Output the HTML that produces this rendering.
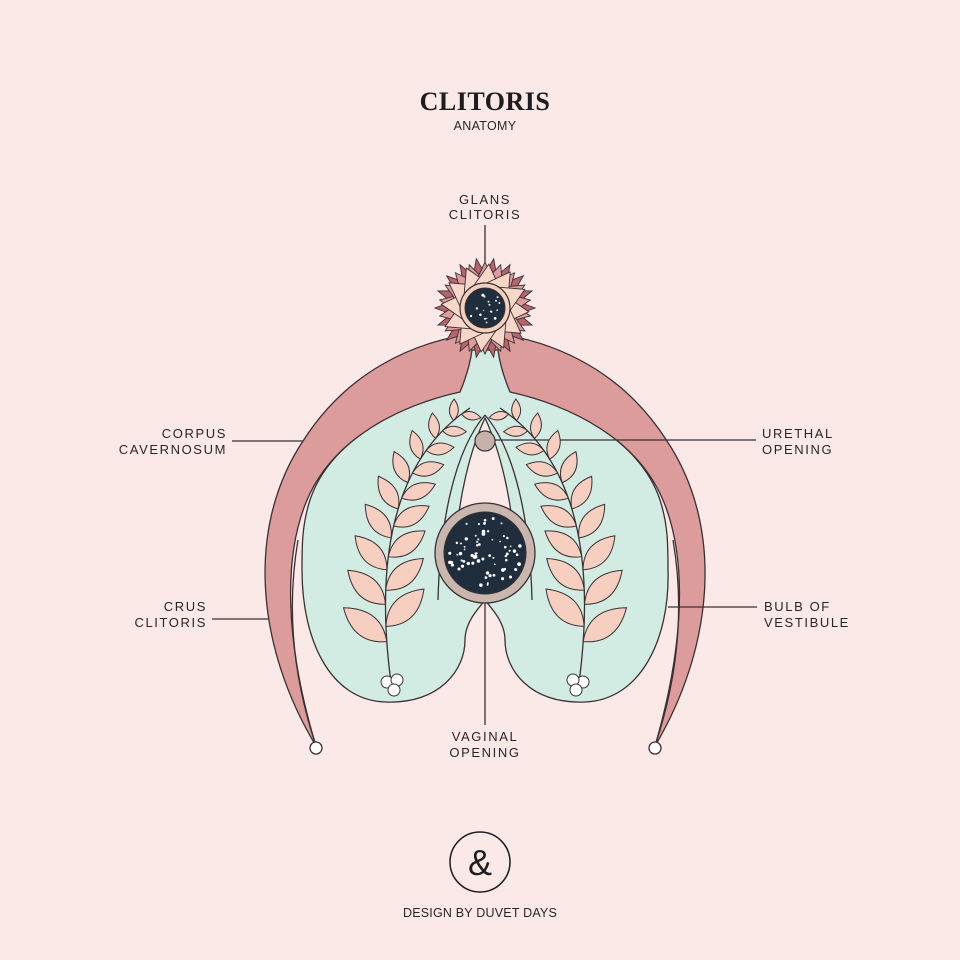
<!DOCTYPE html>
<html><head><meta charset="utf-8">
<style>
html,body{margin:0;padding:0;background:#fbe9e7;}
svg{display:block}
text{font-family:"Liberation Sans",sans-serif;fill:#2a2628;}
</style></head>
<body>
<svg id="s" width="960" height="960" viewBox="0 0 960 960" xmlns="http://www.w3.org/2000/svg">
<rect width="960" height="960" fill="#fbe9e7"/>
<text x="485" y="110" text-anchor="middle" style="font-family:'Liberation Serif',serif;font-weight:bold;font-size:26px;fill:#1e1c1e" letter-spacing="0.5">CLITORIS</text>
<text x="485" y="130" text-anchor="middle" font-size="12.5" letter-spacing="0.3">ANATOMY</text>

<g stroke="#3a3034" stroke-width="1.3" fill="none">
<line x1="485" y1="225" x2="485" y2="262"/>
<line x1="232" y1="441" x2="306" y2="441"/>
<line x1="212" y1="619" x2="290" y2="619"/>
</g>

<g font-size="13" letter-spacing="1.6">
<text x="485" y="204" text-anchor="middle">GLANS</text>
<text x="485" y="219" text-anchor="middle">CLITORIS</text>
<text x="227" y="438" text-anchor="end">CORPUS</text>
<text x="227" y="454" text-anchor="end">CAVERNOSUM</text>
<text x="762" y="438">URETHAL</text>
<text x="762" y="454">OPENING</text>
<text x="207" y="611" text-anchor="end">CRUS</text>
<text x="207" y="627" text-anchor="end">CLITORIS</text>
<text x="764" y="611">BULB OF</text>
<text x="764" y="627">VESTIBULE</text>
<text x="485" y="741" text-anchor="middle">VAGINAL</text>
<text x="485" y="757" text-anchor="middle">OPENING</text>
</g>

<!-- crescent -->
<g stroke="#3a3034" stroke-width="1.3">
<path d="M316,746 C258,650 244,530 303,441 C345,375 410,340 485,332 C560,340 625,375 667,441 C726,530 712,650 655,746 C680,660 690,570 665,505 C640,440 570,398 485,398 C400,398 330,440 305,505 C280,570 290,660 316,746 Z" fill="#dd9c9c"/>
<path d="M316,746 C294,680 286,610 298,540" fill="none"/>
<path d="M655,746 C677,680 685,610 673,540" fill="none"/>
</g>
<circle cx="316" cy="748" r="6" fill="#fff" stroke="#3a3034" stroke-width="1.3"/>
<circle cx="655" cy="748" r="6" fill="#fff" stroke="#3a3034" stroke-width="1.3"/>

<!-- bulb -->
<path d="M472,350 L498,350 C500,365 505,380 510,392 C570,405 640,440 660,500 C668,525 668,545 668,570 C670,640 640,700 585,702 C530,704 505,670 505,640 C505,620 488,605 485,600 C482,605 465,620 465,640 C465,670 440,704 385,702 C330,700 302,640 302,570 C302,545 302,525 310,500 C330,440 400,405 460,392 C465,380 470,365 472,350 Z" fill="#d3ece3" stroke="#3a3034" stroke-width="1.3"/>
<path d="M485,415 C455,450 440,520 438,600 M485,415 C515,450 530,520 532,600" fill="none" stroke="#3a3034" stroke-width="1.3"/>
<path d="M485,418 C470,450 458,500 456,545 L514,545 C512,500 500,450 485,418 Z" fill="#fbe9e7" stroke="#3a3034" stroke-width="1.3"/>
<g stroke="#3a3034" stroke-width="1.3" fill="none">
<line x1="495" y1="440" x2="756" y2="440"/>
<line x1="668" y1="607" x2="757" y2="607"/>
<line x1="485" y1="600" x2="485" y2="725"/>
</g>
<circle cx="485" cy="441" r="10" fill="#c6b2ab" stroke="#3a3034" stroke-width="1.2"/>
<circle cx="485" cy="553" r="50" fill="#c9b6af" stroke="#3a3034" stroke-width="1.3"/>
<circle cx="485" cy="553" r="41" fill="#1f2d3c" stroke="#3a3034" stroke-width="1"/>
<g id="leaves"></g>
<g id="flower"></g>
<g id="stars" fill="#fff"></g>

<circle cx="480" cy="862" r="30" fill="none" stroke="#1e1c1e" stroke-width="1.5"/>
<text x="480" y="875" text-anchor="middle" font-size="36" style="fill:#1e1c1e">&amp;</text>
<text x="480" y="917" text-anchor="middle" font-size="12.5" letter-spacing="0.2">DESIGN BY DUVET DAYS</text>
</svg>
<script>
const NS="http://www.w3.org/2000/svg";
function el(p,tag,a){const e=document.createElementNS(NS,tag);for(const k in a)e.setAttribute(k,a[k]);p.appendChild(e);return e;}
const L=document.getElementById('leaves');
function branch(m){
 const X=x=>m?970-x:x;
 const B=[392,690],C=[362,480],T=[470,408];
 el(L,'path',{d:`M${X(B[0])},${B[1]} Q${X(C[0])},${C[1]} ${X(T[0])},${T[1]}`,fill:'none',stroke:'#3a3034','stroke-width':1.3});
 const n=9;
 for(let i=0;i<n;i++){
  for(let side=-1;side<=1;side+=2){
   const t=0.12+i*0.1+(side>0?0.04:0);
   if(t>1.0)continue;
   const u=1-t;
   const x=u*u*B[0]+2*u*t*C[0]+t*t*T[0], y=u*u*B[1]+2*u*t*C[1]+t*t*T[1];
   const dx=2*u*(C[0]-B[0])+2*t*(T[0]-C[0]), dy=2*u*(C[1]-B[1])+2*t*(T[1]-C[1]);
   let ang=Math.atan2(dy,dx)*180/Math.PI + side*48;
   const len=60-42*t, w=len*0.42;
   let a=ang; let xx=X(x);
   if(m) a=180-ang;
   el(L,'path',{d:`M0,0 Q${len*0.45},${-w} ${len},0 Q${len*0.45},${w} 0,0 Z`,transform:`translate(${xx},${y}) rotate(${a})`,fill:'#f7cfc1',stroke:'#3a3034','stroke-width':1});
  }
 }
 const bx=X(392);
 [[-5,682],[5,680],[2,690]].forEach(p=>el(L,'circle',{cx:bx+(m?-p[0]:p[0]),cy:p[1],r:6,fill:'#fff',stroke:'#3a3034','stroke-width':1}));
}
branch(false);branch(true);
const F=document.getElementById('flower');const cx=485,cy=308;
function petals(n,r0,r1,hw,off,fill){
 for(let i=0;i<n;i++){const a=(i/n)*360+off;
  el(F,'path',{d:`M${r0},${-hw} L${r1},0 L${r0},${hw} Z`,transform:`translate(${cx},${cy}) rotate(${a})`,fill,stroke:'#3a3034','stroke-width':0.9});}
}
petals(18,20,50,11,0,'#b9636f');
petals(18,20,46,12,10,'#de9c9c');
petals(12,18,44,15,5,'#f8d7c9');
el(F,'circle',{cx,cy,r:25,fill:'#f3cfc0',stroke:'#3a3034','stroke-width':1.2});
el(F,'circle',{cx,cy,r:20,fill:'#1f2d3c',stroke:'#3a3034','stroke-width':1});
const S=document.getElementById('stars');
let seed=7;function rnd(){seed=(seed*9301+49297)%233280;return seed/233280;}
for(let i=0;i<70;i++){const a=rnd()*6.283,r=Math.sqrt(rnd())*37;el(S,'circle',{cx:485+r*Math.cos(a),cy:553+r*Math.sin(a),r:0.8+rnd()*1.1});}
for(let i=0;i<18;i++){const a=rnd()*6.283,r=Math.sqrt(rnd())*17;el(S,'circle',{cx:cx+r*Math.cos(a),cy:cy+r*Math.sin(a),r:0.6+rnd()*0.9});}
</script>
</body></html>
